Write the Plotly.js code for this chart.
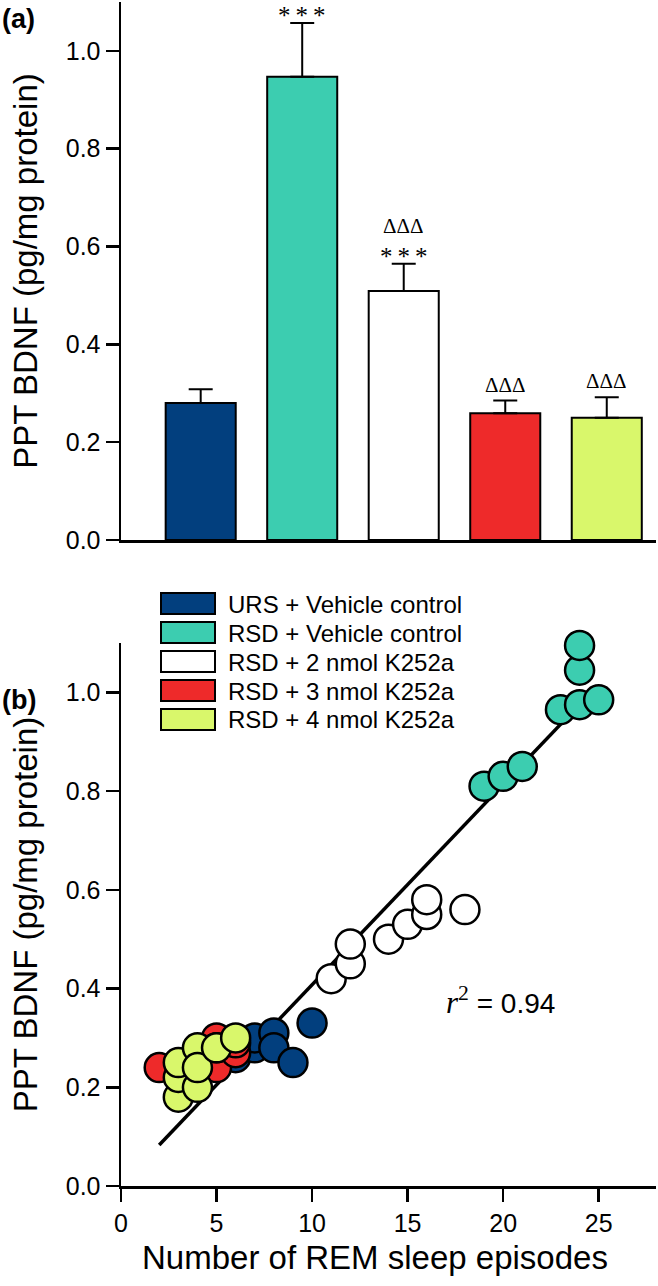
<!DOCTYPE html>
<html>
<head>
<meta charset="utf-8">
<script src="https://cdn.plot.ly/plotly-3.0.1.min.js"></script>
<style>
html,body{margin:0;padding:0;background:#fff;}
#chart{width:658px;height:1286px;}
</style>
</head>
<body>
<div id="chart"></div>
<script>
// ---------- data ----------
const groups = ["URS + Vehicle control", "RSD + Vehicle control", "RSD + 2 nmol K252a", "RSD + 3 nmol K252a", "RSD + 4 nmol K252a"];
const groupColors = ["#023f7e", "#3ccdb0", "#ffffff", "#ee2a2a", "#d9f76b"];
const barMeans = [0.28, 0.947, 0.509, 0.259, 0.25];
const barSEM = [0.028, 0.11, 0.056, 0.026, 0.042];
const starMarks = ["", "***", "***", "", ""];
const deltaMarks = ["", "", "ΔΔΔ", "ΔΔΔ", "ΔΔΔ"];

const ursX = [6, 6, 7, 7, 8, 8, 9, 10];
const ursY = [0.26, 0.28, 0.28, 0.30, 0.31, 0.28, 0.25, 0.33];
const rsdX = [19, 20, 21, 23, 24, 25, 24, 24];
const rsdY = [0.81, 0.83, 0.85, 0.965, 0.975, 0.985, 1.045, 1.095];
const k2X = [11, 12, 12, 14, 15, 16, 16, 18];
const k2Y = [0.42, 0.45, 0.49, 0.50, 0.53, 0.55, 0.58, 0.56];
const k3X = [2, 4, 5, 5, 5, 6, 6, 4];
const k3Y = [0.24, 0.25, 0.24, 0.30, 0.28, 0.27, 0.29, 0.27];
const k4X = [3, 3, 3, 4, 4, 4, 5, 6];
const k4Y = [0.18, 0.22, 0.25, 0.20, 0.28, 0.24, 0.28, 0.30];
const fitX = [2, 24.6];
const fitY = [0.083, 1.0];
const rSquared = "0.94";

const yTicks = [0, 0.2, 0.4, 0.6, 0.8, 1.0];
const xTicks = [0, 5, 10, 15, 20, 25];

// ---------- helpers ----------
const W = 658, H = 1286, ML = 121, MR = 2, MT = 2, MB = 100;
const PW = W - ML - MR, PH = H - MT - MB;
const px2paperX = px => (px - ML) / PW;
const py2paperY = py => (H - MB - py) / PH;
const FONT = "Liberation Sans, Arial, sans-serif";
const SERIF = "Liberation Serif, Times New Roman, serif";

const barX = groups.map((g, i) => i);

const traces = [];
// Bars
traces.push({
  type: "bar", x: barX, y: barMeans, xaxis: "x", yaxis: "y",
  width: 0.69,
  marker: {color: groupColors, line: {color: "#000", width: 2}},
  error_y: {type: "data", symmetric: false, array: barSEM, arrayminus: barSEM.map(() => 0),
            color: "#000", thickness: 2, width: 12},
  showlegend: false, hoverinfo: "skip"
});
// Regression line
traces.push({
  type: "scatter", mode: "lines", x: fitX, y: fitY, xaxis: "x2", yaxis: "y2",
  line: {color: "#000", width: 3.5}, showlegend: false, hoverinfo: "skip", cliponaxis: false
});
const scatterSets = [[ursX, ursY], [rsdX, rsdY], [k2X, k2Y], [k3X, k3Y], [k4X, k4Y]];
scatterSets.forEach((s, i) => {
  traces.push({
    type: "scatter", mode: "markers", x: s[0], y: s[1], xaxis: "x2", yaxis: "y2",
    name: groups[i], cliponaxis: false,
    marker: {size: 29, color: groupColors[i], line: {color: "#000", width: 2.5}},
    showlegend: false, hoverinfo: "skip"
  });
});

// ---------- annotations ----------
const annotations = [];
barX.forEach((xv, i) => {
  const top = barMeans[i] + barSEM[i];
  if (starMarks[i]) {
    annotations.push({xref: "x", yref: "y", x: xv, y: top, yanchor: "middle", xanchor: "center",
      yshift: 8, height: 18, valign: "middle",
      text: starMarks[i].split("").join("\u2009"), showarrow: false,
      font: {family: SERIF, size: 25, color: "#000"}});
  }
  if (deltaMarks[i]) {
    annotations.push({xref: "x", yref: "y", x: xv, y: top, yanchor: "middle", xanchor: "center",
      yshift: starMarks[i] ? 38 : 16, height: 18, valign: "middle",
      text: deltaMarks[i], showarrow: false,
      font: {family: SERIF, size: 21, color: "#000"}});
  }
});
// panel labels
annotations.push({xref: "paper", yref: "paper", x: px2paperX(0), y: py2paperY(19), xanchor: "left", yanchor: "middle",
  text: "<b>(a)</b>", showarrow: false, font: {family: FONT, size: 27, color: "#000"}});
annotations.push({xref: "paper", yref: "paper", x: px2paperX(0), y: py2paperY(700), xanchor: "left", yanchor: "middle",
  text: "<b>(b)</b>", showarrow: false, font: {family: FONT, size: 27, color: "#000"}});
// r^2
annotations.push({xref: "paper", yref: "paper", x: px2paperX(444), y: py2paperY(1000), xanchor: "left", yanchor: "middle",
  text: "<span style=\"font-family:'Liberation Serif';font-size:31px\"><i>r</i><sup>2</sup></span> = " + rSquared,
  showarrow: false, font: {family: FONT, size: 28, color: "#000"}});
// x-axis title of panel (b)
annotations.push({xref: "paper", yref: "paper", x: px2paperX(375), y: py2paperY(1257), xanchor: "center", yanchor: "middle",
  text: "Number of REM sleep episodes", showarrow: false, font: {family: FONT, size: 33, color: "#000"}});

// legend (manual)
const shapes = [];
groups.forEach((g, i) => {
  const top = 593 + i * 29;
  shapes.push({type: "rect", xref: "paper", yref: "paper",
    x0: px2paperX(161), x1: px2paperX(215), y0: py2paperY(top), y1: py2paperY(top + 21),
    fillcolor: groupColors[i], line: {color: "#000", width: 2}});
  annotations.push({xref: "paper", yref: "paper", x: px2paperX(226), y: py2paperY(top + 11),
    xanchor: "left", yanchor: "middle", text: g, showarrow: false,
    font: {family: FONT, size: 24, color: "#000"}});
});

const axisCommon = {
  showgrid: false, zeroline: false, showline: true, linecolor: "#000", linewidth: 2.5,
  ticks: "outside", ticklen: 13, tickwidth: 2.5, tickcolor: "#000",
  tickfont: {family: FONT, size: 25, color: "#000"}
};
const yTitle = {text: "PPT BDNF (pg/mg protein)", font: {family: FONT, size: 33, color: "#000"}, standoff: 18};

const layout = {
  width: W, height: H,
  margin: {l: ML, r: MR, t: MT, b: MB},
  paper_bgcolor: "#fff", plot_bgcolor: "#fff",
  showlegend: false,
  xaxis: Object.assign({}, axisCommon, {domain: [0, 1], anchor: "y", range: [-0.785, 4.485],
    ticks: "", showticklabels: false}),
  yaxis: Object.assign({}, axisCommon, {domain: [py2paperY(540), 1], anchor: "x", range: [0, 1.1],
    tickvals: yTicks, ticktext: yTicks.map(v => v.toFixed(1)), title: yTitle}),
  xaxis2: Object.assign({}, axisCommon, {domain: [0, 1], anchor: "y2", range: [0, 28],
    tickvals: xTicks, ticktext: xTicks.map(String)}),
  yaxis2: Object.assign({}, axisCommon, {domain: [0, py2paperY(643)], anchor: "x2", range: [0, 1.1],
    tickvals: yTicks, ticktext: yTicks.map(v => v.toFixed(1)), title: yTitle}),
  shapes: shapes,
  annotations: annotations
};

Plotly.newPlot("chart", traces, layout, {staticPlot: true, displayModeBar: false});
</script>
</body>
</html>
